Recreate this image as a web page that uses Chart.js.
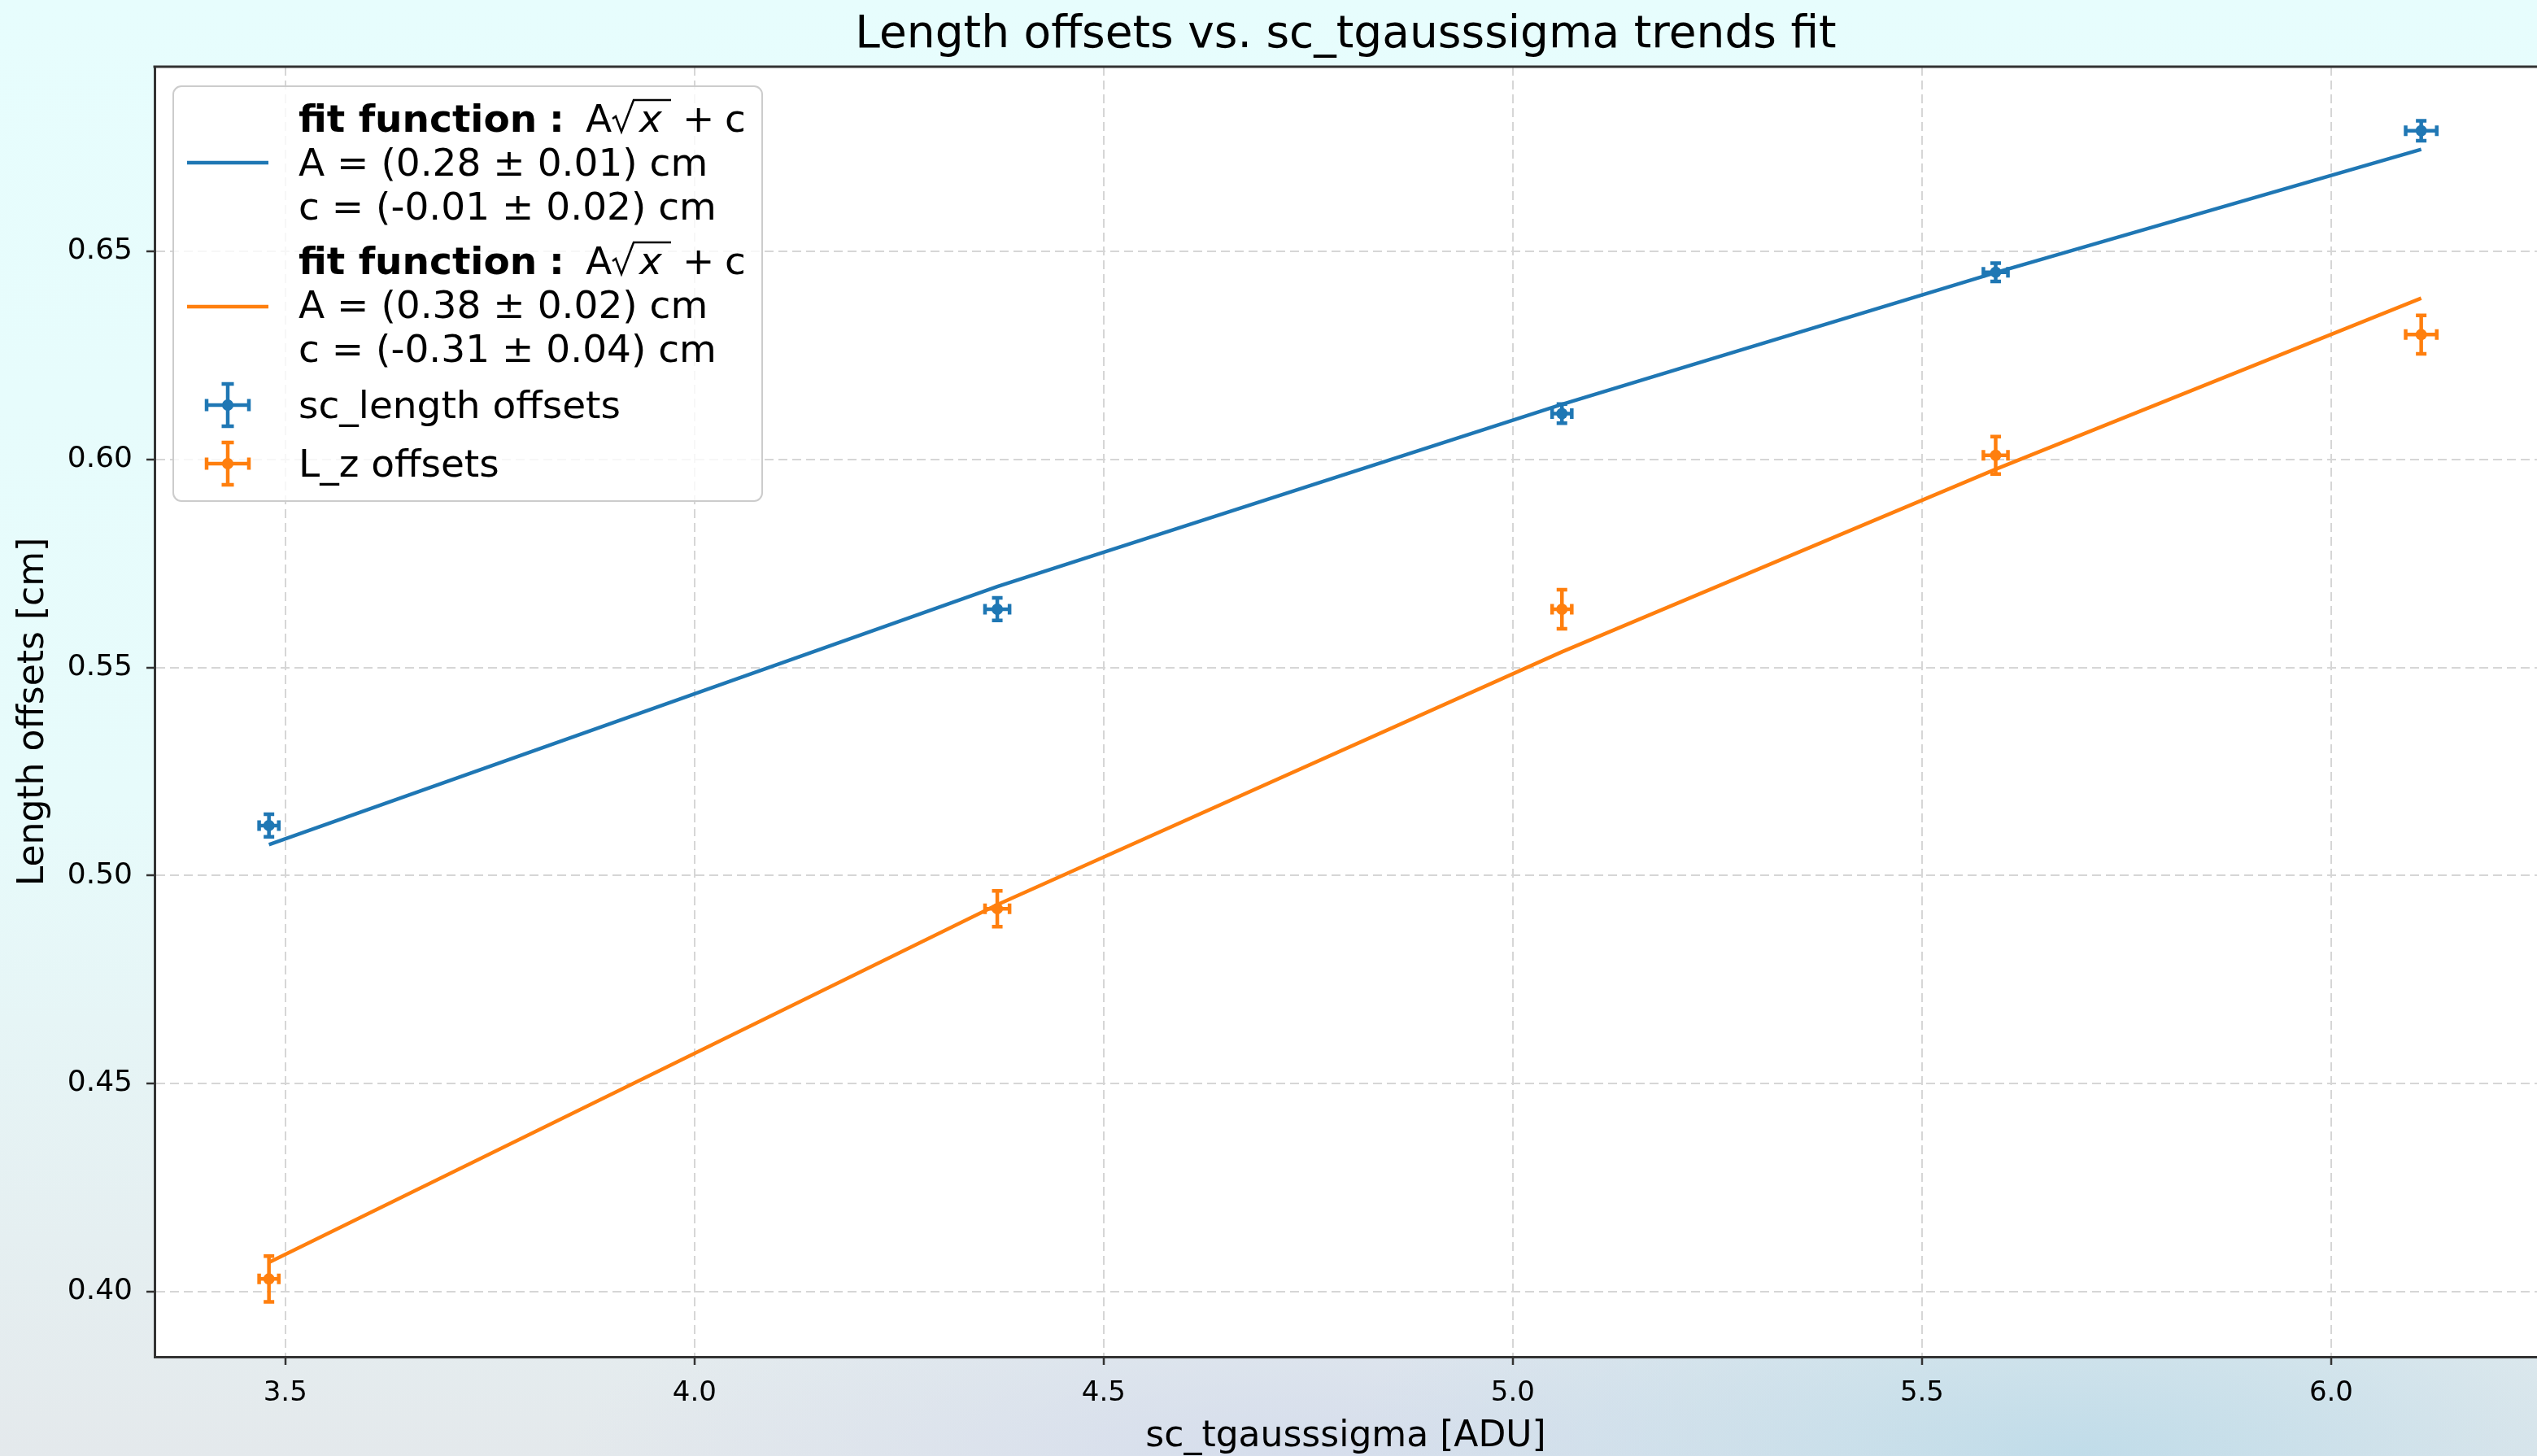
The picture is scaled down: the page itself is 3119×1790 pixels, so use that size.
<!DOCTYPE html>
<html lang="en">
<head>
<meta charset="utf-8" />
<title>Length offsets vs. sc_tgausssigma trends fit</title>
<script src="https://cdn.jsdelivr.net/npm/chart.js@4.4.1/dist/chart.umd.min.js"></script>
<style>
  html, body { margin: 0; padding: 0; }
  body {
    width: 3119px; height: 1790px; overflow: hidden;
    background:
      radial-gradient(ellipse 900px 320px at 2550px 1790px, rgba(192,220,233,1), rgba(192,220,233,0)),
      radial-gradient(ellipse 900px 260px at 1600px 1790px, rgba(212,220,236,0.9), rgba(212,220,236,0)),
      linear-gradient(to bottom, #e7fdfd 0%, #e7fbfb 55%, #e4e9ec 100%);
  }
  #myChart { display: block; }
</style>
</head>
<body>
<canvas id="myChart" width="3119" height="1790"></canvas>
<script>
// measured points (x = sc_tgausssigma, shared by both series)
var sigma = [3.48, 4.37, 5.06, 5.59, 6.11];
var sigmaErr = [0.012, 0.015, 0.012, 0.015, 0.019];
var scLength = [0.512, 0.564, 0.611, 0.645, 0.679];
var scLengthErr = [0.0027, 0.0027, 0.0023, 0.0022, 0.0024];
var lzOffset = [0.403, 0.492, 0.564, 0.601, 0.630];
var lzOffsetErr = [0.0055, 0.0043, 0.0047, 0.0045, 0.0046];

// fit A*sqrt(x) + c, index 0 = sc_length, 1 = L_z
var fitA = [0.2756, 0.3822];
var fitAErr = [0.01, 0.02];
var fitC = [-0.0067, -0.306];
var fitCErr = [0.02, 0.04];

var xTicks = [3.5, 4.0, 4.5, 5.0, 5.5, 6.0];
var yTicks = [0.40, 0.45, 0.50, 0.55, 0.60, 0.65];

var BLUE = '#1f77b4', ORANGE = '#ff7f0e';
var FONT = '"DejaVu Sans", sans-serif';

function fitCurve(k) {
  return sigma.map(function(s) { return {x: s, y: fitA[k] * Math.sqrt(s) + fitC[k]}; });
}
function points(ys) {
  return sigma.map(function(s, i) { return {x: s, y: ys[i]}; });
}

// white axes background + top spine + title
var frame = {
  id: 'frame',
  beforeDraw: function(chart) {
    var a = chart.chartArea, ctx = chart.ctx;
    ctx.save();
    ctx.fillStyle = '#ffffff';
    ctx.fillRect(a.left, a.top, a.right - a.left, a.bottom - a.top);
    ctx.restore();
  },
  afterDraw: function(chart) {
    var a = chart.chartArea, ctx = chart.ctx;
    ctx.save();
    ctx.strokeStyle = '#333333';
    ctx.lineWidth = 3;
    ctx.beginPath();
    ctx.moveTo(a.left - 1.5, a.top);
    ctx.lineTo(a.right, a.top);
    ctx.stroke();
    ctx.fillStyle = '#000000';
    ctx.font = '55px ' + FONT;
    ctx.textAlign = 'center';
    ctx.textBaseline = 'alphabetic';
    ctx.fillText('Length offsets vs. sc_tgausssigma trends fit', (a.left + a.right) / 2, 58);
    ctx.restore();
  }
};

function drawCross(ctx, px, py, x0, x1, y0, y1, cap) {
  ctx.beginPath();
  ctx.moveTo(x0, py); ctx.lineTo(x1, py);
  ctx.moveTo(px, y0); ctx.lineTo(px, y1);
  ctx.moveTo(x0, py - cap); ctx.lineTo(x0, py + cap);
  ctx.moveTo(x1, py - cap); ctx.lineTo(x1, py + cap);
  ctx.moveTo(px - cap, y0); ctx.lineTo(px + cap, y0);
  ctx.moveTo(px - cap, y1); ctx.lineTo(px + cap, y1);
  ctx.stroke();
}

var errorBars = {
  id: 'errorBars',
  afterDatasetsDraw: function(chart) {
    var ctx = chart.ctx, xs = chart.scales.x, ys = chart.scales.y;
    chart.data.datasets.forEach(function(ds) {
      if (!ds.errorY) return;
      ctx.save();
      ctx.strokeStyle = ds.borderColor;
      ctx.lineWidth = 4.5;
      ds.data.forEach(function(p, j) {
        drawCross(ctx,
          xs.getPixelForValue(p.x), ys.getPixelForValue(p.y),
          xs.getPixelForValue(p.x - ds.errorX[j]), xs.getPixelForValue(p.x + ds.errorX[j]),
          ys.getPixelForValue(p.y - ds.errorY[j]), ys.getPixelForValue(p.y + ds.errorY[j]), 6.5);
      });
      ctx.restore();
    });
  }
};

// matplotlib-like legend with the fit formula
function drawFitLabel(ctx, x, base, k) {
  ctx.font = 'bold 47px ' + FONT;
  ctx.fillText('fit function', x, base);
  ctx.fillText(':', x + 308, base);
  ctx.font = '47px ' + FONT;
  ctx.fillText('A', x + 353, base);
  ctx.save();
  ctx.lineWidth = 2.5;
  ctx.strokeStyle = '#000';
  ctx.beginPath();
  ctx.moveTo(x + 386, base - 16);
  ctx.lineTo(x + 390, base - 19);
  ctx.lineTo(x + 397, base);
  ctx.lineTo(x + 412, base - 39);
  ctx.lineTo(x + 458, base - 39);
  ctx.stroke();
  ctx.restore();
  ctx.font = 'italic 47px ' + FONT;
  ctx.fillText('x', x + 419, base);
  ctx.font = '47px ' + FONT;
  ctx.fillText('+', x + 472, base);
  ctx.fillText('c', x + 524, base);
  ctx.fillText('A = (' + fitA[k].toFixed(2) + ' \u00b1 ' + fitAErr[k].toFixed(2) + ') cm', x, base + 54);
  ctx.fillText('c = (' + fitC[k].toFixed(2) + ' \u00b1 ' + fitCErr[k].toFixed(2) + ') cm', x, base + 108);
}

var fitLegend = {
  id: 'fitLegend',
  afterDraw: function(chart) {
    var ctx = chart.ctx;
    ctx.save();
    ctx.beginPath();
    ctx.roundRect(213, 106, 724, 510, 10);
    ctx.fillStyle = 'rgba(255,255,255,0.8)';
    ctx.fill();
    ctx.strokeStyle = '#cccccc';
    ctx.lineWidth = 2;
    ctx.stroke();

    ctx.lineWidth = 4.5;
    [[BLUE, 200], [ORANGE, 377]].forEach(function(h) {
      ctx.strokeStyle = h[0];
      ctx.beginPath(); ctx.moveTo(230, h[1]); ctx.lineTo(330, h[1]); ctx.stroke();
    });
    [[BLUE, 498], [ORANGE, 570]].forEach(function(h) {
      ctx.strokeStyle = h[0]; ctx.fillStyle = h[0];
      ctx.lineWidth = 4.5;
      drawCross(ctx, 280, h[1], 254, 306, h[1] - 26, h[1] + 26, 7.5);
      ctx.beginPath(); ctx.arc(280, h[1], 7, 0, Math.PI * 2); ctx.fill();
    });

    ctx.fillStyle = '#000000';
    ctx.textAlign = 'left';
    ctx.textBaseline = 'alphabetic';
    drawFitLabel(ctx, 367, 162, 0);
    drawFitLabel(ctx, 367, 337, 1);
    ctx.font = '47px ' + FONT;
    ctx.fillText('sc_length offsets', 367, 514);
    ctx.fillText('L_z offsets', 367, 586);
    ctx.restore();
  }
};

Chart.defaults.font.family = FONT;
Chart.defaults.color = '#000000';

var ctx = document.getElementById('myChart');
var myChart = new Chart(ctx, {
  type: 'scatter',
  data: {
    datasets: [{
      label: 'fit sc_length',
      data: fitCurve(0),
      showLine: true, borderColor: BLUE, borderWidth: 4.5, pointRadius: 0
    }, {
      label: 'fit L_z',
      data: fitCurve(1),
      showLine: true, borderColor: ORANGE, borderWidth: 4.5, pointRadius: 0
    }, {
      label: 'sc_length offsets',
      data: points(scLength),
      errorX: sigmaErr, errorY: scLengthErr,
      borderColor: BLUE, backgroundColor: BLUE, pointRadius: 7, borderWidth: 0
    }, {
      label: 'L_z offsets',
      data: points(lzOffset),
      errorX: sigmaErr, errorY: lzOffsetErr,
      borderColor: ORANGE, backgroundColor: ORANGE, pointRadius: 7, borderWidth: 0
    }]
  },
  options: {
    responsive: false,
    devicePixelRatio: 1,
    animation: false,
    events: [],
    layout: { autoPadding: false, padding: { top: 82, left: 0, right: 0, bottom: 0 } },
    plugins: { legend: { display: false }, tooltip: { enabled: false }, title: { display: false } },
    scales: {
      x: {
        type: 'linear', min: 3.3402, max: 6.2515,
        afterBuildTicks: function(s) { s.ticks = xTicks.map(function(v) { return {value: v}; }); },
        afterFit: function(s) { s.height = 122; s.paddingLeft = 0; s.paddingRight = 0; },
        ticks: { font: { size: 34 }, color: '#000', padding: 15, maxRotation: 0,
                 callback: function(v) { return v.toFixed(1); } },
        grid: { color: '#d6d6d6', lineWidth: 2, tickLength: 10, tickColor: '#333333', tickWidth: 2.5 },
        border: { display: true, color: '#333333', width: 3, dash: [11, 6] },
        title: { display: true, text: 'sc_tgausssigma [ADU]', font: { size: 44 }, color: '#000',
                 padding: { top: 0, bottom: -3 } }
      },
      y: {
        type: 'linear', min: 0.3843, max: 0.6944,
        afterBuildTicks: function(s) { s.ticks = yTicks.map(function(v) { return {value: v}; }); },
        afterFit: function(s) { s.width = 190; s.paddingTop = 0; s.paddingBottom = 0; },
        ticks: { font: { size: 36 }, color: '#000', padding: 17,
                 callback: function(v) { return v.toFixed(2); } },
        grid: { color: '#d6d6d6', lineWidth: 2, tickLength: 10, tickColor: '#333333', tickWidth: 2.5 },
        border: { display: true, color: '#333333', width: 3, dash: [11, 6] },
        title: { display: true, text: 'Length offsets [cm]', font: { size: 44 }, color: '#000',
                 padding: { top: 15, bottom: 0 } }
      }
    }
  },
  plugins: [frame, errorBars, fitLegend]
});
</script>
</body>
</html>
